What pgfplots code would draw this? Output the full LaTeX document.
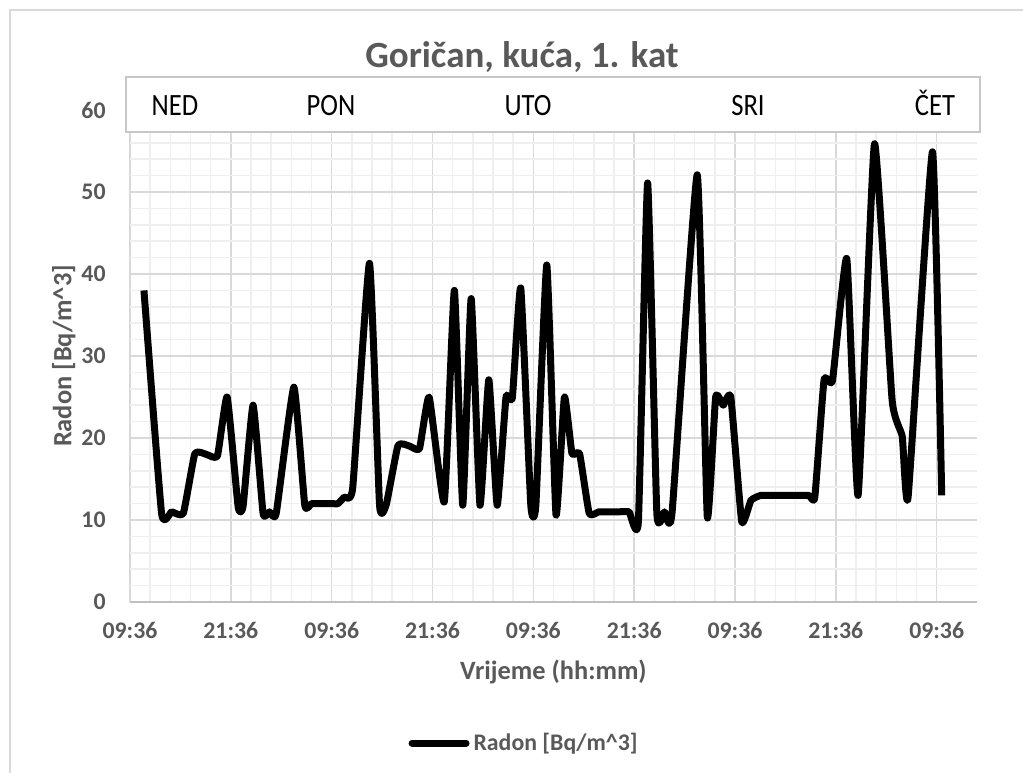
\documentclass[border=0pt]{standalone}
\usepackage{fontspec}
\setmainfont{Carlito}
\usepackage{graphicx}
\usepackage{pgfplots}
\pgfplotsset{compat=1.18}
\definecolor{txt}{HTML}{595959}
\definecolor{gmaj}{HTML}{D9D9D9}
\definecolor{gmin}{HTML}{EFEFEF}
\definecolor{bord}{HTML}{D9D9D9}
\definecolor{axl}{HTML}{BFBFBF}
\begin{document}
\begin{tikzpicture}
\useasboundingbox (0pt,0pt) rectangle (511.5pt,386.5pt);
\fill[white] (0pt,0pt) rectangle (511.5pt,386.5pt);
\draw[bord, line width=0.8pt] (5pt,0pt) -- (5pt,381.5pt) -- (511.5pt,381.5pt);
\begin{axis}[
  at={(65pt,85.5pt)}, anchor=south west,
  scale only axis, width=423.5pt, height=246pt,
  xmin=0, xmax=100.8, ymin=0, ymax=60,
  xtick={0,12,...,96},
  xticklabels={09:36,21:36,09:36,21:36,09:36,21:36,09:36,21:36,09:36},
  ytick={0,10,...,60},
  minor x tick num=4, minor y tick num=4,
  grid=both,
  major grid style={gmaj, line width=0.8pt},
  minor grid style={gmin, line width=0.8pt},
  major tick length=0pt, minor tick length=0pt,
  axis line style={draw=none},
  /pgf/number format/assume math mode=true,
  tick label style={font=\fontsize{11.9}{14}\selectfont\bfseries, text=txt},
  yticklabel style={inner sep=0pt, anchor=east, xshift=-12pt},
  xticklabel style={inner sep=0pt, anchor=north, yshift=-10pt},
  xlabel={Vrijeme (hh:mm)},
  ylabel={Radon [Bq/m\textasciicircum 3]},
  label style={font=\fontsize{13.2}{15}\selectfont\bfseries, text=txt},
  xlabel style={at={(axis description cs:0.5,-0.1423)}, anchor=center},
  ylabel style={at={(axis description cs:-0.0780,0.5)}, anchor=center, rotate=0},
  legend style={at={(axis description cs:0.4664,-0.2866)}, anchor=center,
    draw=none, fill=none, font=\fontsize{11.9}{14}\selectfont\bfseries, text=txt,
    inner sep=0pt},
  legend image code/.code={\draw[#1, line width=3.5pt, line cap=round] (0pt,0pt) -- (27pt,0pt);},
  legend cell align=left,
]
\draw[axl, line width=1pt] (rel axis cs:0,0) -- (rel axis cs:1,0);
\addplot[black, line width=3.5pt, line join=round, smooth, tension=0.25] coordinates {
(1.66,38.0) (3.76,10.8) (4.95,11.0) (6.34,10.8) (7.72,18.1) (9.1,18.0) (10.4,17.8)
(11.56,25.0) (12.87,11.6) (13.46,11.7) (14.65,24.0) (15.84,10.8) (16.6,11.0) (17.4,10.8)
(19.5,26.2) (20.8,11.8) (21.6,12.0) (22.8,12.0) (24.0,12.0) (24.75,12.0) (25.5,12.8) (26.5,13.9)
(28.5,41.3) (29.7,11.8) (30.5,11.9) (31.9,19.1) (33.3,19.0) (34.45,18.7) (35.6,25.0)
(37.4,12.2) (38.6,38.0) (39.6,11.8) (40.6,37.0) (41.65,11.8) (42.7,27.1) (43.7,11.8)
(44.75,25.0) (45.5,24.9) (46.5,38.3) (47.7,11.8) (48.3,11.8) (49.6,41.1) (50.7,10.6)
(51.7,25.0) (52.6,18.1) (53.5,18.1) (54.65,10.8) (55.8,11.0) (57.0,11.0) (58.2,11.0)
(59.4,11.0) (60.5,9.8) (61.6,51.1) (62.7,10.8) (63.6,11.0) (64.5,10.8) (67.5,52.1)
(68.7,10.4) (69.7,25.0) (70.6,24.0) (71.5,25.0) (72.8,9.8) (73.9,12.4) (75.05,13.0)
(76.5,13.0) (78.0,13.0) (79.5,13.0) (80.8,13.0) (81.5,12.8) (82.6,27.1) (83.6,27.0)
(85.3,41.9) (86.65,13.0) (88.6,55.9) (90.7,24.6) (91.9,20.2) (92.6,12.8) (95.5,54.9) (96.6,13.0)
};
\addlegendentry{Radon [Bq/m\textasciicircum 3]}
\end{axis}
\node[font=\fontsize{18.5}{22}\selectfont\bfseries, text=txt] at (261pt,358pt) {Goričan, kuća, 1. kat};
\draw[gmaj!80!gray, line width=0.8pt, fill=white] (63pt,320.5pt) rectangle (490pt,348pt);
\begin{scope}[every node/.style={font=\fontsize{15.5}{18}\selectfont, text=black, anchor=base, inner sep=0pt}]
\node at (87.5pt,328.5pt) {\scalebox{0.86}[1]{NED}};
\node at (165.5pt,328.5pt) {\scalebox{0.86}[1]{PON}};
\node at (264pt,328.5pt) {\scalebox{0.86}[1]{UTO}};
\node at (374pt,328.5pt) {\scalebox{0.86}[1]{SRI}};
\node at (467.5pt,328.5pt) {\scalebox{0.86}[1]{ČET}};
\end{scope}
\end{tikzpicture}
\end{document}
